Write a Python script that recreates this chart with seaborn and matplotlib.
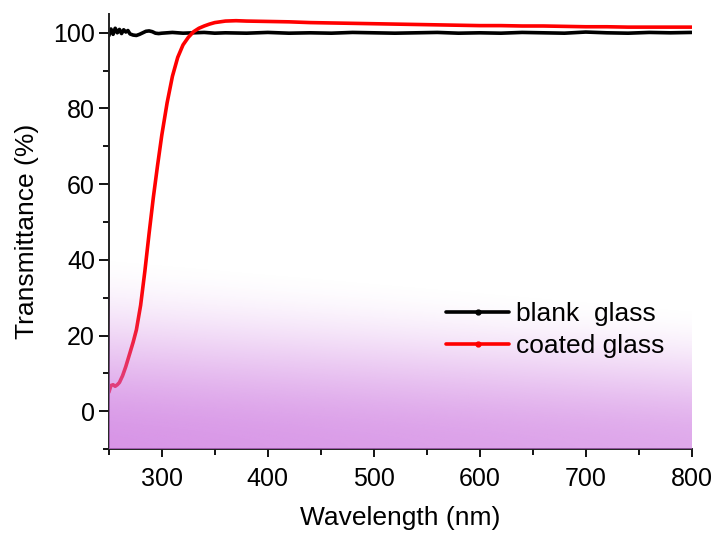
import numpy as np
import pandas as pd
import matplotlib
matplotlib.use("Agg")
import matplotlib.pyplot as plt
from matplotlib.lines import Line2D
from matplotlib.ticker import MultipleLocator
import seaborn as sns

# blank glass
blank_nm = [250, 252, 254, 256, 258, 260, 262, 264, 266, 268, 270, 273, 276, 279,
            282, 285, 288, 291, 294, 297, 300, 310, 320, 330, 340, 350, 360, 380,
            400, 420, 440, 460, 480, 500, 520, 540, 560, 580, 600, 620, 640, 660,
            680, 700, 720, 740, 760, 780, 800]
blank_T = [99.2, 101.0, 99.6, 101.2, 100.0, 100.9, 99.8, 100.8, 100.2, 100.6, 99.7,
           99.4, 99.3, 99.6, 100.0, 100.4, 100.5, 100.3, 99.9, 99.8, 99.9, 100.1,
           99.9, 100.0, 100.1, 99.9, 100.0, 99.9, 100.1, 99.9, 100.0, 99.9, 100.1,
           100.0, 99.9, 100.0, 100.1, 99.9, 100.0, 99.9, 100.1, 100.0, 99.9, 100.2,
           100.0, 99.9, 100.1, 100.0, 100.1]

# coated glass
coated_nm = [250, 252, 254, 256, 258, 260, 263, 266, 270, 273, 276, 280, 284, 288,
             292, 296, 300, 305, 310, 315, 320, 325, 330, 335, 340, 345, 350, 355,
             360, 370, 380, 400, 420, 440, 460, 480, 500, 520, 540, 560, 580, 600,
             620, 640, 660, 680, 700, 720, 740, 760, 780, 800]
coated_T = [5.0, 6.8, 7.0, 6.6, 7.0, 7.6, 9.4, 11.8, 15.5, 18.3, 21.5, 28.0, 37.0,
            47.0, 56.5, 65.0, 73.0, 81.5, 88.5, 93.5, 96.8, 98.8, 100.3, 101.2,
            101.8, 102.3, 102.7, 102.9, 103.1, 103.2, 103.1, 103.0, 102.9, 102.7,
            102.6, 102.5, 102.4, 102.3, 102.2, 102.1, 102.0, 101.9, 101.9, 101.8,
            101.8, 101.7, 101.6, 101.6, 101.5, 101.5, 101.5, 101.5]

labels = ["blank  glass", "coated glass"]
colors = ["black", "#ff0000"]

sns.set_style("ticks")
plt.rcParams['font.family'] = ['Liberation Sans', 'DejaVu Sans']
plt.rcParams['text.color'] = 'black'
plt.rcParams['axes.labelcolor'] = 'black'

fig = plt.figure(figsize=(7.16, 5.34), dpi=100)
ax = fig.add_axes([0.152, 0.159, 0.814, 0.815])

df_blank = pd.DataFrame({"nm": blank_nm, "T": blank_T})
df_coated = pd.DataFrame({"nm": coated_nm, "T": coated_T})
sns.lineplot(data=df_blank, x="nm", y="T", color=colors[0], lw=2.6, ax=ax,
             estimator=None, sort=False)
sns.lineplot(data=df_coated, x="nm", y="T", color=colors[1], lw=2.6, ax=ax,
             estimator=None, sort=False)

# violet haze over the lower part of the plot
nx, ny = 300, 200
xf = np.linspace(0, 1, nx)[None, :]
yf = np.linspace(0, 1, ny)[:, None]
top = 0.45 - 0.12 * xf
amax = 0.74 - 0.14 * xf
s = np.clip(1 - yf / top, 0, 1)
alpha = amax * s * s * (3 - 2 * s)
img = np.zeros((ny, nx, 4))
img[..., 0] = 202 / 255
img[..., 1] = 112 / 255
img[..., 2] = 222 / 255
img[..., 3] = alpha
ax.imshow(img, extent=[0, 1, 0, 1], transform=ax.transAxes, origin="lower",
          aspect="auto", zorder=3, interpolation="bilinear")

ax.set_xlim(250, 800)
ax.set_ylim(-10, 105)
ax.xaxis.set_major_locator(MultipleLocator(100))
ax.xaxis.set_minor_locator(MultipleLocator(50))
ax.yaxis.set_major_locator(MultipleLocator(20))
ax.yaxis.set_minor_locator(MultipleLocator(10))
ax.tick_params(which="major", direction="out", length=6, width=1.3, labelsize=18,
               colors="black")
ax.tick_params(which="minor", direction="out", length=4, width=1.3, colors="black")
ax.tick_params(axis="y", which="major", length=7, pad=3)
ax.tick_params(axis="x", which="major", pad=7)

sns.despine(ax=ax)
for side in ["left", "bottom"]:
    ax.spines[side].set_linewidth(1.4)
    ax.spines[side].set_color("#222222")

ax.set_xlabel("Wavelength (nm)", fontsize=19, labelpad=11)
ax.set_ylabel("Transmittance (%)", fontsize=19, labelpad=10)

handles = [Line2D([], [], color=c, lw=2.6, marker="o", ms=3.5) for c in colors]
ax.legend(handles, labels, loc="upper left", bbox_to_anchor=(0.556, 0.368),
          frameon=False, fontsize=19, handlelength=2.4, handletextpad=0.25,
          labelspacing=0.3, borderpad=0, numpoints=1)

fig.savefig("out.png", dpi=100)
